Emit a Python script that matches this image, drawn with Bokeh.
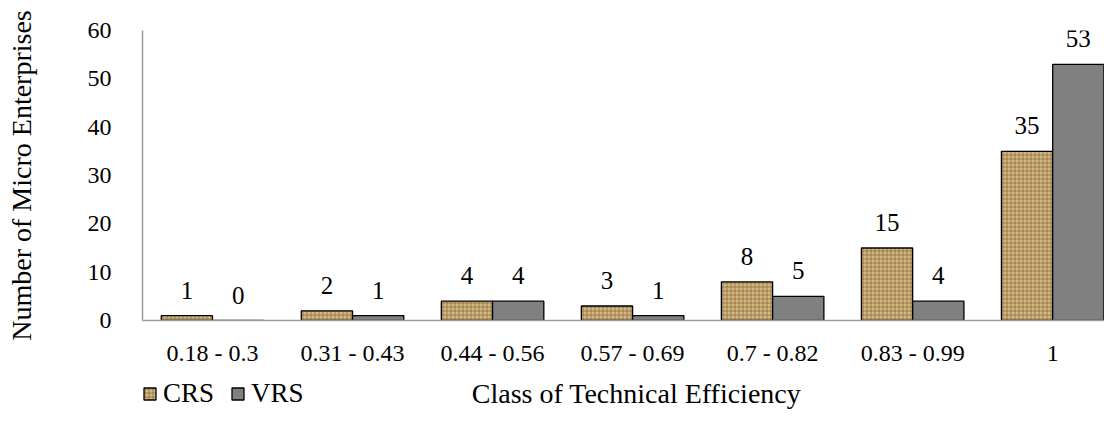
from bokeh.plotting import figure
from bokeh.layouts import column
from bokeh.models import (ColumnDataSource, Range1d, FixedTicker, LabelSet,
                          Legend, LegendItem, Label)
from bokeh.embed import file_html
from bokeh.resources import INLINE

categories = ["0.18 - 0.3", "0.31 - 0.43", "0.44 - 0.56", "0.57 - 0.69",
              "0.7 - 0.82", "0.83 - 0.99", "1"]
crs = [1, 2, 4, 3, 8, 15, 35]
vrs = [0, 1, 4, 1, 5, 4, 53]
y_ticks = [0, 10, 20, 30, 40, 50, 60]
series_names = ["CRS", "VRS"]
x_title = "Class of Technical Efficiency"
y_title = "Number of Micro Enterprises"

FONT = "Liberation Serif"
BW = 0.366
CRS_STYLE = dict(fill_color="#d2b883", line_color="black", line_width=1.3,
                 hatch_pattern="cross", hatch_color="#7a5a2a", hatch_alpha=0.6,
                 hatch_scale=4, hatch_weight=1)
VRS_STYLE = dict(fill_color="#808080", line_color="black", line_width=1.3)

centers = [i + 0.5 for i in range(len(categories))]
src_crs = ColumnDataSource(dict(x=[c - BW / 2 for c in centers], top=crs,
                                lab=[str(v) for v in crs]))
src_vrs = ColumnDataSource(dict(x=[c + BW / 2 for c in centers], top=vrs,
                                lab=[str(v) for v in vrs]))

p = figure(width=1104, height=368, output_backend="svg", toolbar_location=None,
           x_range=Range1d(0, 6.87), y_range=Range1d(0, 60),
           min_border_left=142, min_border_right=0, min_border_top=30,
           min_border_bottom=46)
p.outline_line_color = None
p.xgrid.grid_line_color = None
p.ygrid.grid_line_color = None

p.vbar(x="x", top="top", width=BW, source=src_crs, **CRS_STYLE)
p.vbar(x="x", top="top", width=BW, source=src_vrs, **VRS_STYLE)

for src in (src_crs, src_vrs):
    p.add_layout(LabelSet(x="x", y="top", text="lab", source=src, y_offset=17,
                          text_align="center", text_baseline="alphabetic",
                          text_font=FONT, text_font_size="25px", text_color="black"))

p.xaxis.ticker = FixedTicker(ticks=centers)
p.xaxis.major_label_overrides = {c: lab for c, lab in zip(centers, categories)}
p.yaxis.ticker = FixedTicker(ticks=y_ticks)
for ax in (p.xaxis, p.yaxis):
    ax.major_tick_line_color = None
    ax.minor_tick_line_color = None
    ax.axis_line_color = "#9a9a9a"
    ax.axis_line_width = 1.5
    ax.major_label_text_font = FONT
    ax.major_label_text_font_size = "24px"
    ax.major_label_text_color = "black"
    ax.axis_label_text_font = FONT
    ax.axis_label_text_font_size = "28px"
    ax.axis_label_text_font_style = "normal"
    ax.axis_label_text_color = "black"

p.xaxis.major_label_standoff = 13
p.yaxis.axis_label = y_title
p.yaxis.major_label_standoff = 25
p.yaxis.axis_label_standoff = 48

# bottom strip: legend keys and the x-axis title on one row
p2 = figure(width=1104, height=44, output_backend="svg", toolbar_location=None,
            x_range=Range1d(0, 6.87), y_range=Range1d(0, 1),
            x_axis_location=None, y_axis_location=None, min_border=0)
p2.outline_line_color = None
p2.grid.visible = False
k1 = p2.vbar(x="x", top="top", width=BW, source=src_crs, visible=False, **CRS_STYLE)
k2 = p2.vbar(x="x", top="top", width=BW, source=src_vrs, visible=False, **VRS_STYLE)
legend = Legend(items=[LegendItem(label=series_names[0], renderers=[k1], index=0),
                       LegendItem(label=series_names[1], renderers=[k2], index=0)],
                location=(0, 3), orientation="horizontal", click_policy="none",
                background_fill_alpha=0, border_line_color=None,
                padding=0, margin=0, spacing=16, label_standoff=6,
                glyph_width=15, glyph_height=15,
                label_text_font=FONT, label_text_font_size="27px",
                label_text_color="black")
p2.add_layout(legend, "center")
p2.add_layout(Label(x=494, y=19, x_units="screen", y_units="screen", text=x_title,
                    text_align="center", text_baseline="middle", text_font=FONT,
                    text_font_size="28px", text_color="black"))

open("out.html", "w").write(file_html(column(p, p2, spacing=0), INLINE))
